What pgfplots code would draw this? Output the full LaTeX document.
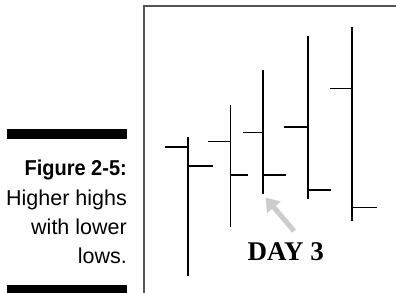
\documentclass[border=0pt]{standalone}
\usepackage{pgfplots}
\pgfplotsset{compat=1.18}
\usetikzlibrary{arrows.meta}
\usepackage{fontspec}
\setmainfont{Liberation Serif}
\newfontfamily\capfont{Liberation Sans}
\newfontfamily\capboldfont[FakeStretch=0.93]{Liberation Sans Bold}
\definecolor{framecol}{gray}{0.33}
\definecolor{arrowcol}{gray}{0.80}
\begin{document}
\begin{tikzpicture}
\useasboundingbox (0,0) rectangle (396bp,293bp);
\begin{axis}[
  at={(0,0)}, anchor=south west,
  scale only axis, width=396bp, height=293bp,
  xmin=0, xmax=396, ymin=0, ymax=293, y dir=reverse,
  hide axis, clip=false,
  unbounded coords=jump,
]
% frame
\addplot[framecol, line width=1.8bp, line join=miter] coordinates {(143.8,293) (143.8,6) (396,6)};
% caption bars
\addplot[black, line width=10bp] coordinates {(7.3,134) (127,134)};
\addplot[black, line width=10bp] coordinates {(7.3,290) (127,290)};
% high-low verticals (thick)
\addplot[black, line width=2.1bp] coordinates {
 (188,137) (188,275.5)
 (nan,nan)
 (263,70) (263,193.5)
 (nan,nan)
 (307.7,36) (307.7,199.3)
 (nan,nan)
 (351.7,27.3) (351.7,221)
};
% day 2 vertical (thin)
\addplot[black, line width=1.4bp] coordinates {(230.3,105) (230.3,226.7)};
% open / close ticks
\addplot[black, line width=1.5bp] coordinates {
 (165,147) (188,147) (nan,nan) (188,166) (212.7,166) (nan,nan)
 (208,141.3) (230.3,141.3) (nan,nan) (230.3,175) (247.7,175) (nan,nan)
 (243.3,132.3) (263,132.3) (nan,nan) (263,175) (285.7,175) (nan,nan)
 (284,127) (307.7,127) (nan,nan) (307.7,190) (330.7,190) (nan,nan)
 (330,88.3) (351.7,88.3) (nan,nan) (351.7,207.3) (376.7,207.3)
};
% arrow
\addplot[arrowcol, line width=5bp, -{Triangle[length=13bp,width=17bp]}] coordinates {(294,231) (265.5,197.5)};
% texts
\node[anchor=base, inner sep=0pt, font=\bfseries\fontsize{27bp}{30bp}\selectfont] at (axis cs:285.8,260.7) {DAY 3};
\node[anchor=base east, inner sep=0pt, font=\capboldfont\fontsize{21.5bp}{25bp}\selectfont] at (axis cs:127,175.7) {Figure 2-5:};
\node[anchor=base east, inner sep=0pt, font=\capfont\fontsize{21.5bp}{25bp}\selectfont] at (axis cs:127,205) {Higher highs};
\node[anchor=base east, inner sep=0pt, font=\capfont\fontsize{21.5bp}{25bp}\selectfont] at (axis cs:127,234) {with lower};
\node[anchor=base east, inner sep=0pt, font=\capfont\fontsize{21.5bp}{25bp}\selectfont] at (axis cs:127,263) {lows.};
\end{axis}
\end{tikzpicture}
\end{document}
